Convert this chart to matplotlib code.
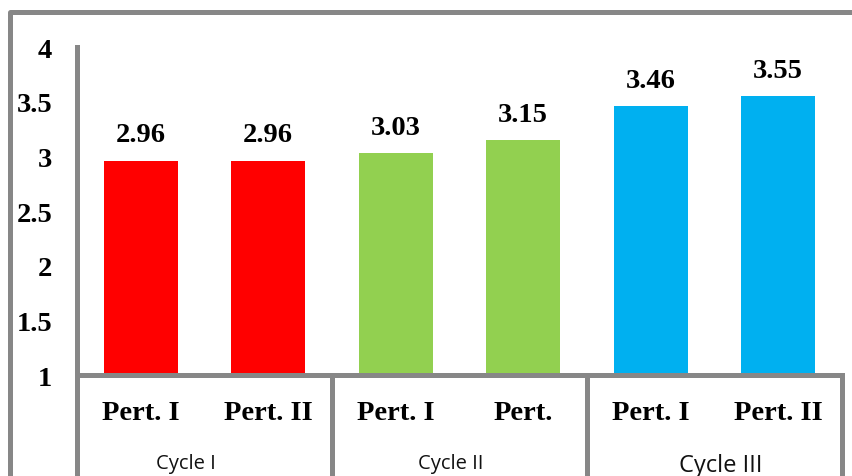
import matplotlib.pyplot as plt
from matplotlib.lines import Line2D

# data
pert_labels = ["Pert. I", "Pert. II", "Pert. I", "Pert.", "Pert. I", "Pert. II"]
scores = [2.96, 2.96, 3.03, 3.15, 3.46, 3.55]
bar_colors = ["#FF0000", "#FF0000", "#92D050", "#92D050", "#00B0F0", "#00B0F0"]
cycles = ["Cycle I", "Cycle II", "Cycle III"]
yticks = [1, 1.5, 2, 2.5, 3, 3.5, 4]

serif = "Liberation Serif"
gray = "#878787"

fig = plt.figure(figsize=(8.53, 4.77), dpi=100)
ax = fig.add_axes([0.0903, 0.2117, 0.8967, 0.6873])

x = range(len(scores))
bars = ax.bar(x, scores, width=0.58, color=bar_colors, bottom=0)

ax.set_xlim(-0.5, 5.5)
ax.set_ylim(1, 4)
ax.set_yticks(yticks)
ax.set_yticklabels([f"{t:g}" for t in yticks], fontfamily=serif,
                   fontweight="bold", fontsize=20.5)
ax.tick_params(axis="y", length=0, pad=18)
ax.set_xticks([])

for s in ["top", "right"]:
    ax.spines[s].set_visible(False)
for s in ["left", "bottom"]:
    ax.spines[s].set_color(gray)
    ax.spines[s].set_linewidth(3.6)

# value labels
for xi, v in zip(x, scores):
    ax.annotate(f"{v:.2f}", (xi, v), xytext=(0, 14), textcoords="offset points",
                ha="center", va="baseline", fontfamily=serif,
                fontweight="bold", fontsize=20.5)

# category labels
trans = ax.get_xaxis_transform()
for xi, lab in zip(x, pert_labels):
    ax.text(xi, -0.134, lab, transform=trans, ha="center", va="baseline",
            fontfamily=serif, fontweight="bold", fontsize=20.5)

# group separators and cycle labels
for sep in [-0.5, 1.5, 3.5, 5.5]:
    ax.plot([sep, sep], [0, -0.35], transform=trans, color=gray,
            linewidth=3.6, clip_on=False, solid_capstyle="butt")

cycle_x = [0.35, 2.43, 4.55]
cycle_y = [-0.284, -0.284, -0.292]
cycle_size = [14.5, 14.5, 17]
for cx, cy, cs, lab in zip(cycle_x, cycle_y, cycle_size, cycles):
    ax.text(cx, cy, lab, transform=trans, ha="center", va="baseline",
            fontfamily="Open Sans", fontsize=cs, color="#111111")

# outer chart frame (left and top)
fig.add_artist(Line2D([0.0123, 0.0123, 1.0], [0.0, 0.9727, 0.9727],
                      transform=fig.transFigure, color=gray, linewidth=3.6,
                      solid_joinstyle="round"))

fig.savefig("out.png", dpi=100)
